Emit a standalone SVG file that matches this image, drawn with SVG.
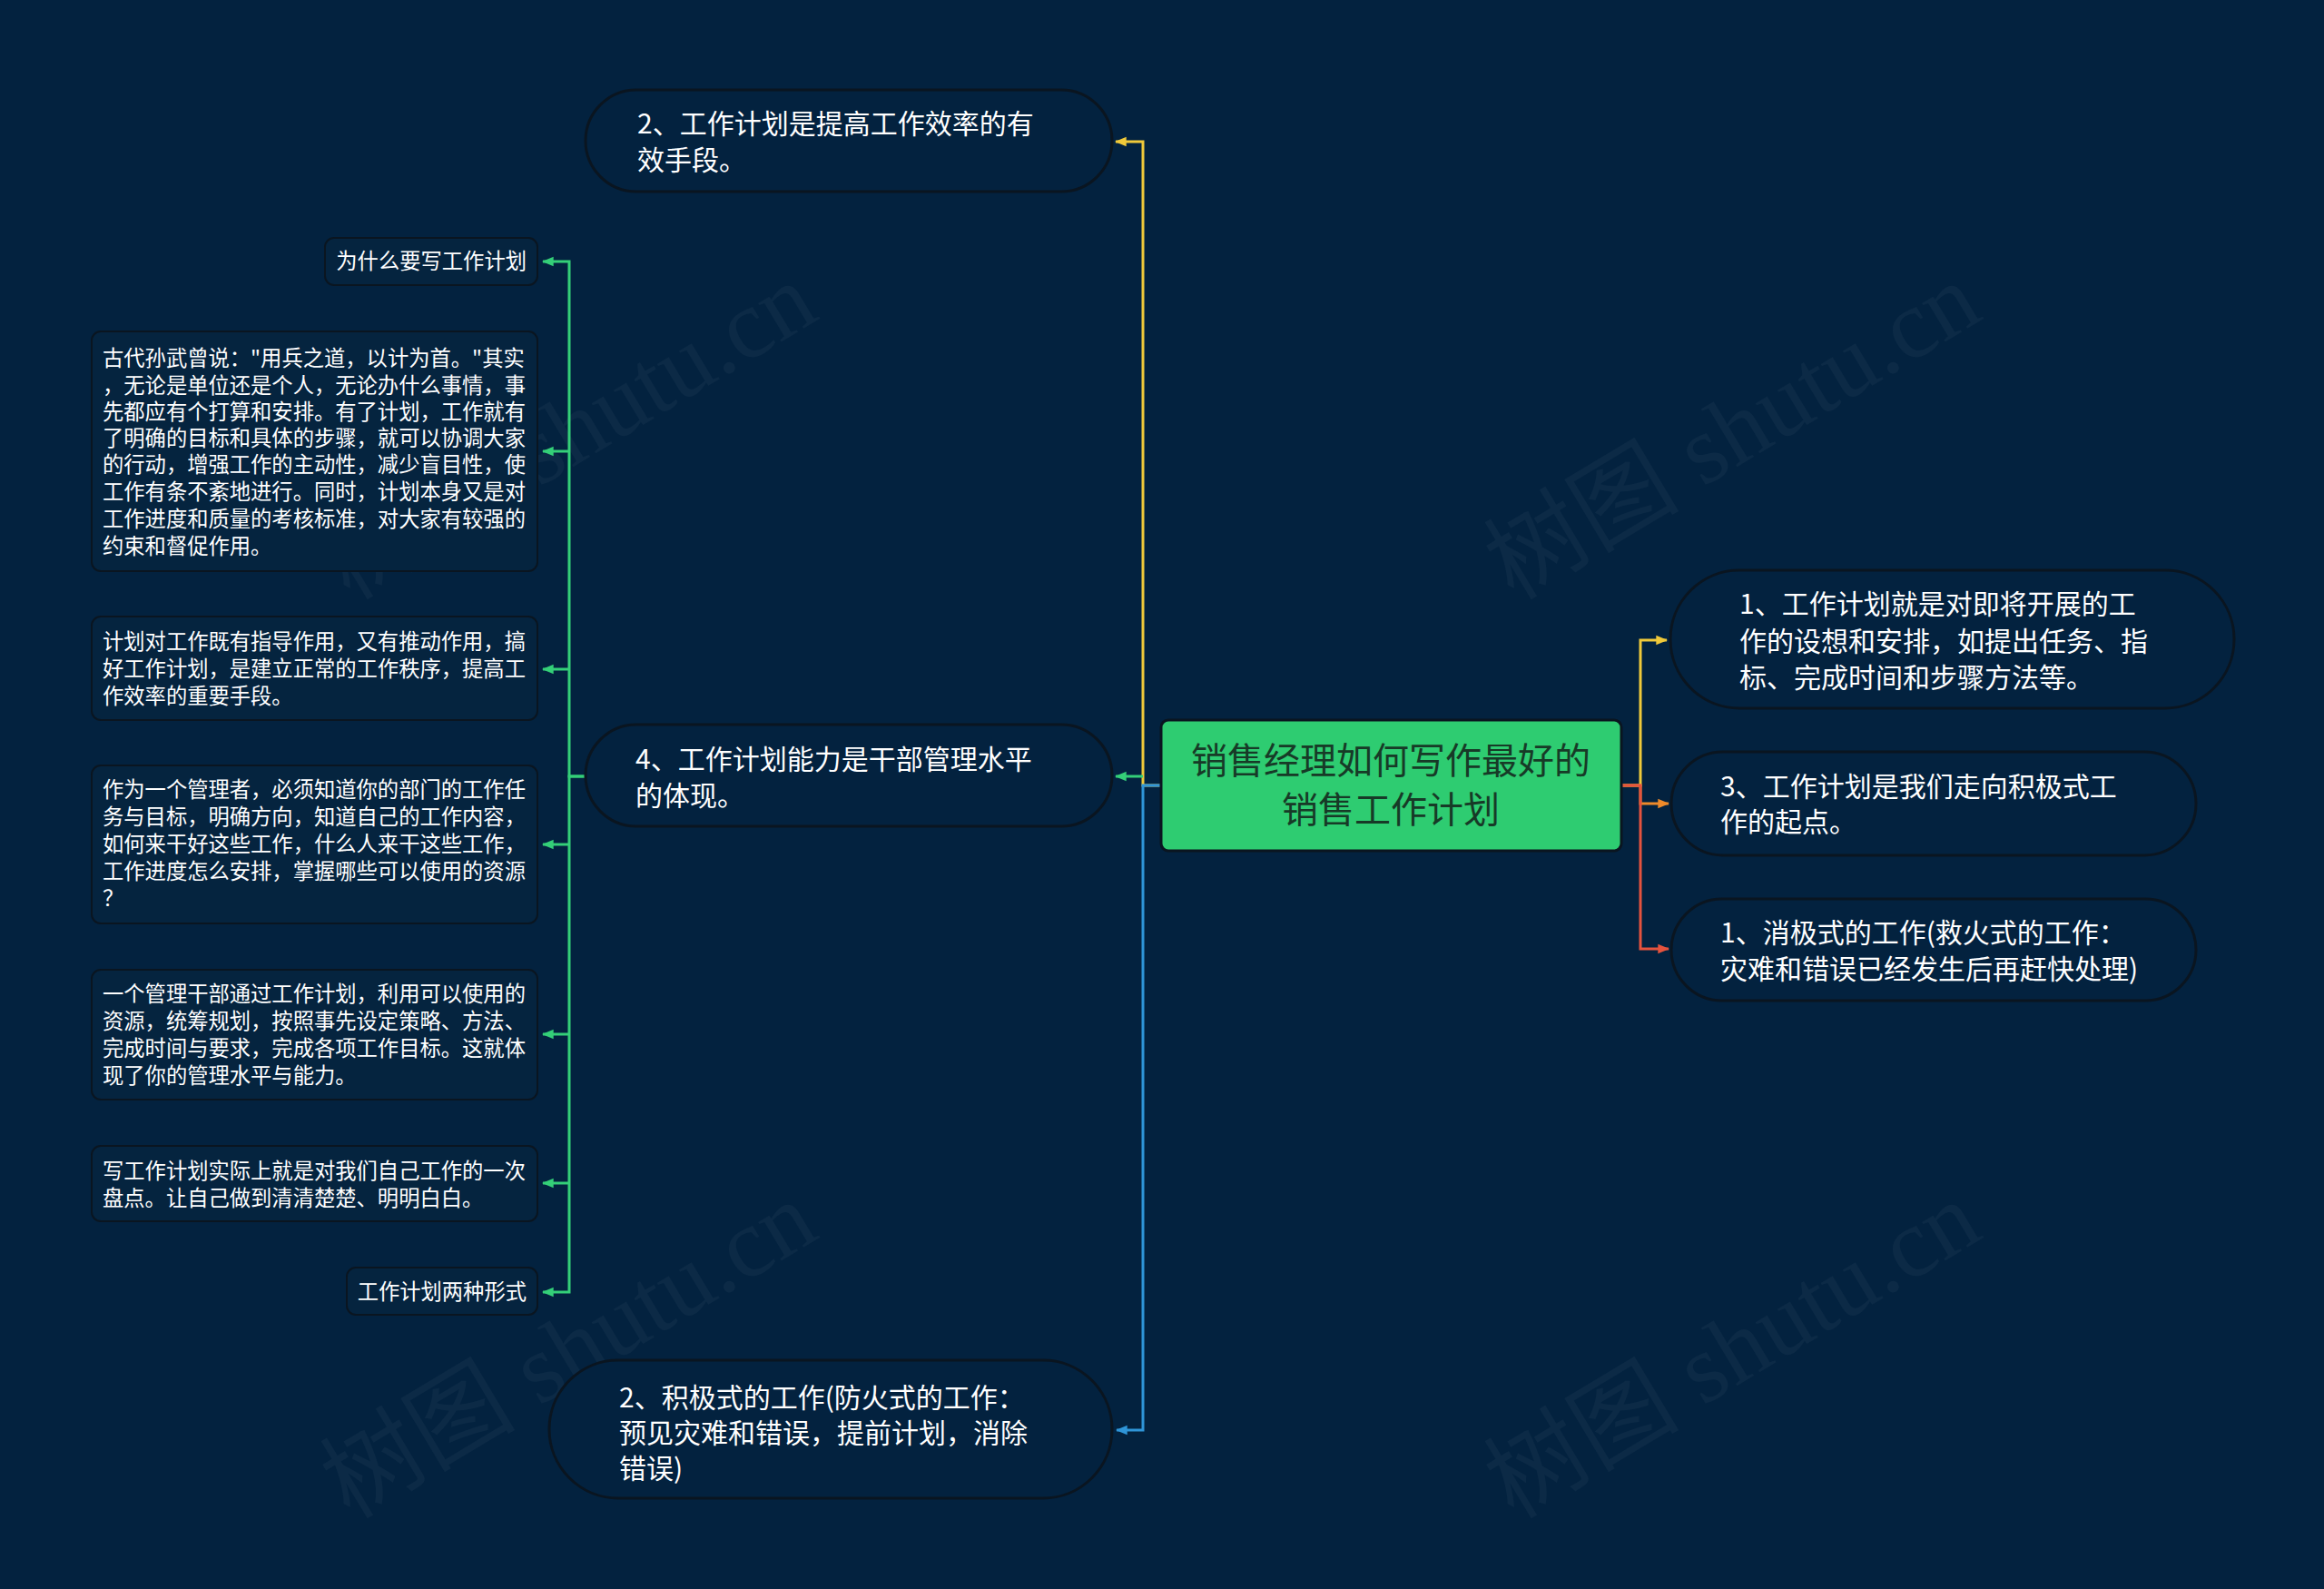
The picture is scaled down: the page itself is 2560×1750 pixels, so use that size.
<svg xmlns="http://www.w3.org/2000/svg" width="2560" height="1750" viewBox="0 0 2560 1750">
<style>
.bg{fill:#03223f}
.pill{fill:#03223f;stroke:#0a1520;stroke-width:3}
.box{fill:#05243f;stroke:#0a1520;stroke-width:2}
.t{font-family:"Noto Sans CJK SC","Noto Sans",sans-serif;fill:#ffffff}
.t30{font-size:30px}
.t23{font-size:23.3px}
.c{fill:none;stroke-width:3}
.wm{font-family:"Liberation Serif","Noto Sans CJK SC",serif;font-size:108px;fill:#ffffff;fill-opacity:0.04}
</style>
<defs>
<marker id="aY" viewBox="0 0 10 10" refX="9" refY="5" markerWidth="13" markerHeight="13" markerUnits="userSpaceOnUse" orient="auto"><path d="M0,1 L10,5 L0,9 z" fill="#f0c93a"/></marker>
<marker id="aO" viewBox="0 0 10 10" refX="9" refY="5" markerWidth="13" markerHeight="13" markerUnits="userSpaceOnUse" orient="auto"><path d="M0,1 L10,5 L0,9 z" fill="#ee8a2a"/></marker>
<marker id="aR" viewBox="0 0 10 10" refX="9" refY="5" markerWidth="13" markerHeight="13" markerUnits="userSpaceOnUse" orient="auto"><path d="M0,1 L10,5 L0,9 z" fill="#e5533e"/></marker>
<marker id="aG" viewBox="0 0 10 10" refX="9" refY="5" markerWidth="13" markerHeight="13" markerUnits="userSpaceOnUse" orient="auto"><path d="M0,1 L10,5 L0,9 z" fill="#34cf78"/></marker>
<marker id="aB" viewBox="0 0 10 10" refX="9" refY="5" markerWidth="13" markerHeight="13" markerUnits="userSpaceOnUse" orient="auto"><path d="M0,1 L10,5 L0,9 z" fill="#2f95d8"/></marker>
</defs>
<rect class="bg" x="0" y="0" width="2560" height="1750"/>

<g id="watermarks">
<text class="wm" transform="translate(645,506) rotate(-31)" text-anchor="middle">树图 shutu.cn</text>
<text class="wm" transform="translate(1927,506) rotate(-31)" text-anchor="middle">树图 shutu.cn</text>
<text class="wm" transform="translate(645,1518) rotate(-31)" text-anchor="middle">树图 shutu.cn</text>
<text class="wm" transform="translate(1927,1518) rotate(-31)" text-anchor="middle">树图 shutu.cn</text>
</g>

<g id="connectors">
<path class="c" stroke="#f0c93a" d="M1786 865 H1807 V705 H1836" marker-end="url(#aY)"/>
<path class="c" stroke="#ee8a2a" d="M1786 865 H1807 V885 H1838" marker-end="url(#aO)"/>
<path class="c" stroke="#e5533e" d="M1786 865 H1807 V1045 H1838" marker-end="url(#aR)"/>
<path class="c" stroke="#f0c93a" d="M1279 865 H1259 V156 H1229" marker-end="url(#aY)"/>
<path class="c" stroke="#34cf78" d="M1259 855 H1229" marker-end="url(#aG)"/>
<path class="c" stroke="#2f95d8" d="M1279 865 H1259 V1575 H1230" marker-end="url(#aB)"/>
<path class="c" stroke="#34cf78" d="M645 855 H627 V288 H598" marker-end="url(#aG)"/>
<path class="c" stroke="#34cf78" d="M627 497 H598" marker-end="url(#aG)"/>
<path class="c" stroke="#34cf78" d="M627 737 H598" marker-end="url(#aG)"/>
<path class="c" stroke="#34cf78" d="M627 930 H598" marker-end="url(#aG)"/>
<path class="c" stroke="#34cf78" d="M627 1139 H598" marker-end="url(#aG)"/>
<path class="c" stroke="#34cf78" d="M627 1303 H598" marker-end="url(#aG)"/>
<path class="c" stroke="#34cf78" d="M645 855 H627 V1423 H598" marker-end="url(#aG)"/>
</g>

<g id="root">
<rect x="1279" y="793" width="507" height="144" rx="8" fill="#2ecc71" stroke="#0a1520" stroke-width="3"/>
<text class="t" style="font-size:40px;fill:#173a27" text-anchor="middle"><tspan x="1532" y="852">销售经理如何写作最好的</tspan><tspan x="1532" y="906">销售工作计划</tspan></text>
</g>

<g id="r1">
<rect class="pill" x="1840" y="628" width="621" height="152" rx="76"/>
<text class="t t30"><tspan x="1916" y="676">1、工作计划就是对即将开展的工</tspan><tspan x="1916" y="717">作的设想和安排，如提出任务、指</tspan><tspan x="1916" y="757">标、完成时间和步骤方法等。</tspan></text>
</g>
<g id="r2">
<rect class="pill" x="1841" y="828" width="578" height="114" rx="57"/>
<text class="t t30"><tspan x="1895" y="877">3、工作计划是我们走向积极式工</tspan><tspan x="1895" y="916">作的起点。</tspan></text>
</g>
<g id="r3">
<rect class="pill" x="1841" y="990" width="578" height="112" rx="56"/>
<text class="t t30"><tspan x="1895" y="1038">1、消极式的工作(救火式的工作：</tspan><tspan x="1895" y="1078">灾难和错误已经发生后再赶快处理)</tspan></text>
</g>

<g id="l1">
<rect class="pill" x="645" y="99" width="580" height="112" rx="56"/>
<text class="t t30"><tspan x="702" y="147">2、工作计划是提高工作效率的有</tspan><tspan x="702" y="187">效手段。</tspan></text>
</g>
<g id="l2">
<rect class="pill" x="645" y="798" width="580" height="112" rx="56"/>
<text class="t t30"><tspan x="700" y="847">4、工作计划能力是干部管理水平</tspan><tspan x="700" y="887">的体现。</tspan></text>
</g>
<g id="l3">
<rect class="pill" x="605" y="1498" width="620" height="152" rx="76"/>
<text class="t t30"><tspan x="682" y="1550">2、积极式的工作(防火式的工作：</tspan><tspan x="682" y="1589">预见灾难和错误，提前计划，消除</tspan><tspan x="682" y="1628">错误)</tspan></text>
</g>

<g id="c1">
<rect class="box" x="358" y="262" width="234" height="52" rx="10"/>
<text class="t t23" text-anchor="end" x="580" y="296">为什么要写工作计划</text>
</g>
<g id="c2">
<rect class="box" x="101" y="365" width="491" height="264" rx="10"/>
<text class="t t23"><tspan x="113" y="403">古代孙武曾说："用兵之道，以计为首。"其实</tspan><tspan x="113" y="433">，无论是单位还是个人，无论办什么事情，事</tspan><tspan x="113" y="462">先都应有个打算和安排。有了计划，工作就有</tspan><tspan x="113" y="491">了明确的目标和具体的步骤，就可以协调大家</tspan><tspan x="113" y="520">的行动，增强工作的主动性，减少盲目性，使</tspan><tspan x="113" y="550">工作有条不紊地进行。同时，计划本身又是对</tspan><tspan x="113" y="580">工作进度和质量的考核标准，对大家有较强的</tspan><tspan x="113" y="610">约束和督促作用。</tspan></text>
</g>
<g id="c3">
<rect class="box" x="101" y="679" width="491" height="114" rx="10"/>
<text class="t t23"><tspan x="113" y="715">计划对工作既有指导作用，又有推动作用，搞</tspan><tspan x="113" y="745">好工作计划，是建立正常的工作秩序，提高工</tspan><tspan x="113" y="775">作效率的重要手段。</tspan></text>
</g>
<g id="c4">
<rect class="box" x="101" y="843" width="491" height="174" rx="10"/>
<text class="t t23"><tspan x="113" y="878">作为一个管理者，必须知道你的部门的工作任</tspan><tspan x="113" y="908">务与目标，明确方向，知道自己的工作内容，</tspan><tspan x="113" y="938">如何来干好这些工作，什么人来干这些工作，</tspan><tspan x="113" y="968">工作进度怎么安排，掌握哪些可以使用的资源</tspan><tspan x="113" y="998">？</tspan></text>
</g>
<g id="c5">
<rect class="box" x="101" y="1068" width="491" height="143" rx="10"/>
<text class="t t23"><tspan x="113" y="1103">一个管理干部通过工作计划，利用可以使用的</tspan><tspan x="113" y="1133">资源，统筹规划，按照事先设定策略、方法、</tspan><tspan x="113" y="1163">完成时间与要求，完成各项工作目标。这就体</tspan><tspan x="113" y="1193">现了你的管理水平与能力。</tspan></text>
</g>
<g id="c6">
<rect class="box" x="101" y="1262" width="491" height="83" rx="10"/>
<text class="t t23"><tspan x="113" y="1298">写工作计划实际上就是对我们自己工作的一次</tspan><tspan x="113" y="1328">盘点。让自己做到清清楚楚、明明白白。</tspan></text>
</g>
<g id="c7">
<rect class="box" x="382" y="1396" width="210" height="52" rx="10"/>
<text class="t t23" text-anchor="end" x="580" y="1431">工作计划两种形式</text>
</g>
</svg>
